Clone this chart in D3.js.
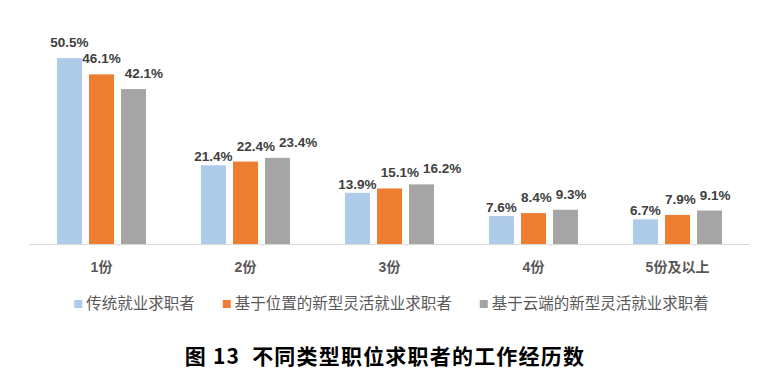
<!DOCTYPE html>
<html>
<head>
<meta charset="utf-8">
<script src="https://cdn.jsdelivr.net/npm/d3@7"></script>
<style>
  html, body { margin: 0; padding: 0; background: #fff; }
</style>
</head>
<body>
<svg id="chart"></svg>
<script>
// chart data
const categories = ["1份", "2份", "3份", "4份", "5份及以上"];
const seriesNames = ["传统就业求职者", "基于位置的新型灵活就业求职者", "基于云端的新型灵活就业求职着"];
const traditional = [50.5, 21.4, 13.9, 7.6, 6.7];
const locationBased = [46.1, 22.4, 15.1, 8.4, 7.9];
const cloudBased = [42.1, 23.4, 16.2, 9.3, 9.1];
const title = "图 13  不同类型职位求职者的工作经历数";

const colors = ["#aecbea", "#ed7d31", "#a5a5a5"];
const seriesValues = [traditional, locationBased, cloudBased];

const width = 779, height = 374;
const baseY = 244;

const svg = d3.select("#chart")
  .attr("width", width)
  .attr("height", height);

// scales
const x = d3.scaleBand()
  .domain(categories)
  .range([29.5, 749.5])
  .paddingInner(0)
  .paddingOuter(0);

const xs = d3.scaleBand()
  .domain(d3.range(seriesNames.length))
  .range([0, 89])
  .paddingInner(0.22);

const y = d3.scaleLinear()
  .domain([0, 60])
  .range([baseY, baseY - 60 * 3.68]);

// bars
const rows = [];
categories.forEach((c, i) => {
  seriesValues.forEach((vals, s) => {
    rows.push({ cat: c, s: s, value: vals[i], i: i });
  });
});

const groupOffset = (x.bandwidth() - 89) / 2;
const barCenter = d => x(d.cat) + groupOffset + xs(d.s) + xs.bandwidth() / 2;

svg.append("g")
  .selectAll("rect")
  .data(rows)
  .enter().append("rect")
  .attr("x", d => x(d.cat) + groupOffset + xs(d.s))
  .attr("y", d => y(d.value))
  .attr("width", xs.bandwidth())
  .attr("height", d => baseY - y(d.value))
  .attr("fill", d => colors[d.s]);

// x axis line
svg.append("line")
  .attr("x1", x.range()[0])
  .attr("x2", x.range()[1])
  .attr("y1", baseY + 0.5)
  .attr("y2", baseY + 0.5)
  .attr("stroke", "#d9d9d9")
  .attr("stroke-width", 1);

// category labels
svg.append("g")
  .selectAll("text")
  .data(categories)
  .enter().append("text")
  .attr("x", d => x(d) + x.bandwidth() / 2)
  .attr("y", 272)
  .attr("text-anchor", "middle")
  .attr("font-family", "'Liberation Sans', 'Noto Sans CJK SC', sans-serif")
  .attr("font-weight", "bold")
  .attr("font-size", "14px")
  .attr("fill", "#595959")
  .text(d => d);

// value labels
const labels = svg.append("g")
  .selectAll("text")
  .data(rows)
  .enter().append("text")
  .attr("x", barCenter)
  .attr("y", d => {
    let off = 11;
    if (d.s === 0 && traditional[d.i] < locationBased[d.i]) off = 4;
    return y(d.value) - off;
  })
  .attr("text-anchor", "middle")
  .attr("font-family", "'Liberation Sans', Arial, sans-serif")
  .attr("font-weight", "bold")
  .attr("font-size", "13.5px")
  .attr("fill", "#404040")
  .text(d => d.value.toFixed(1) + "%");

// nudge labels right when they collide with the previous one in the group
const nodes = labels.nodes();
nodes.forEach((n, k) => {
  const d = rows[k];
  if (d.s === 0) return;
  const prev = nodes[k - 1].getBBox();
  const b = n.getBBox();
  const vOverlap = b.y < prev.y + prev.height && prev.y < b.y + b.height;
  const shift = prev.x + prev.width + 4 - b.x;
  if (vOverlap && shift > 0) {
    d3.select(n).attr("x", +d3.select(n).attr("x") + shift);
  }
});

// legend
const legend = svg.append("g");
let lx = 0;
seriesNames.forEach((name, s) => {
  const item = legend.append("g").attr("transform", "translate(" + lx + ",0)");
  item.append("rect")
    .attr("x", 0)
    .attr("y", -9)
    .attr("width", 8)
    .attr("height", 8)
    .attr("fill", colors[s]);
  const t = item.append("text")
    .attr("x", 12)
    .attr("y", 0)
    .attr("font-family", "'Noto Sans CJK SC', sans-serif")
    .attr("font-size", "15.5px")
    .attr("fill", "#595959")
    .text(name);
  lx += 12 + t.node().getComputedTextLength() + 28;
});
const legendW = lx - 28;
legend.attr("transform", "translate(" + (391.5 - legendW / 2) + ",309)");

// title
svg.append("text")
  .attr("x", 385)
  .attr("y", 364)
  .attr("text-anchor", "middle")
  .attr("font-family", "'Noto Sans CJK SC', sans-serif")
  .attr("font-weight", "bold")
  .attr("font-size", "21px")
  .attr("letter-spacing", "1.2px")
  .attr("fill", "#000")
  .style("white-space", "pre")
  .text(title);
</script>
</body>
</html>
